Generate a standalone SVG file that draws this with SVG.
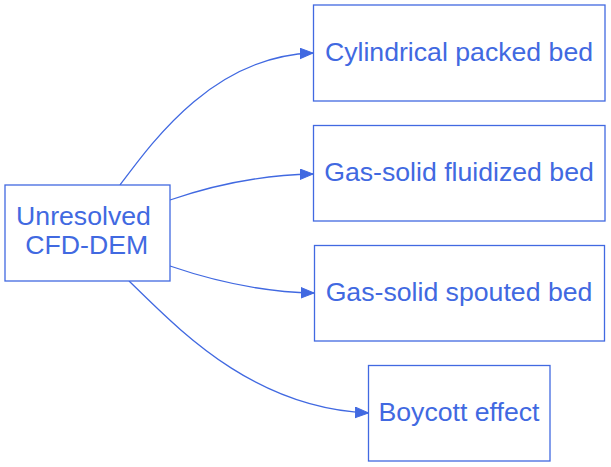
<svg xmlns="http://www.w3.org/2000/svg" width="611" height="467" viewBox="0 0 611 467">
<style>
.node rect{fill:#fff;stroke:#4169E1;stroke-width:1.3}
.node text{font-family:"Liberation Sans",Arial,sans-serif;font-size:26.67px;fill:#4169E1;text-anchor:middle}
.edges path{fill:none;stroke:#4169E1;stroke-width:1.3}
</style>
<defs>
<marker id="arr" markerWidth="15" markerHeight="12" refX="13.3" refY="5.3" orient="auto" markerUnits="userSpaceOnUse">
<polygon points="0,0 13.3,5.3 0,10.6" fill="#4169E1" stroke="#4169E1" stroke-width="1"/>
</marker>
</defs>
<rect width="611" height="467" fill="#fff"/>
<g class="edges">
<path d="M120,185 C155,138 215,56 313,53" marker-end="url(#arr)"/>
<path d="M170,200 C205,188 255,175 313,174" marker-end="url(#arr)"/>
<path d="M170,266 C205,278 255,292 314,293" marker-end="url(#arr)"/>
<path d="M129,281 C175,325 250,408 368.5,413" marker-end="url(#arr)"/>
</g>
<g id="n0" class="node">
<rect x="5" y="185" width="165" height="96"/>
<text x="83.5" y="224.5">Unresolved</text>
<text x="86.7" y="253.5">CFD-DEM</text>
</g>
<g id="n1" class="node">
<rect x="313.5" y="5" width="291.5" height="96"/>
<text x="459" y="60.5">Cylindrical packed bed</text>
</g>
<g id="n2" class="node">
<rect x="313.5" y="125.5" width="291.5" height="95.5"/>
<text x="459" y="180.5">Gas-solid fluidized bed</text>
</g>
<g id="n3" class="node">
<rect x="314.5" y="245.5" width="290" height="95.5"/>
<text x="459" y="300.5">Gas-solid spouted bed</text>
</g>
<g id="n4" class="node">
<rect x="368.5" y="365.5" width="181.5" height="95.5"/>
<text x="459" y="420.5">Boycott effect</text>
</g>
</svg>
